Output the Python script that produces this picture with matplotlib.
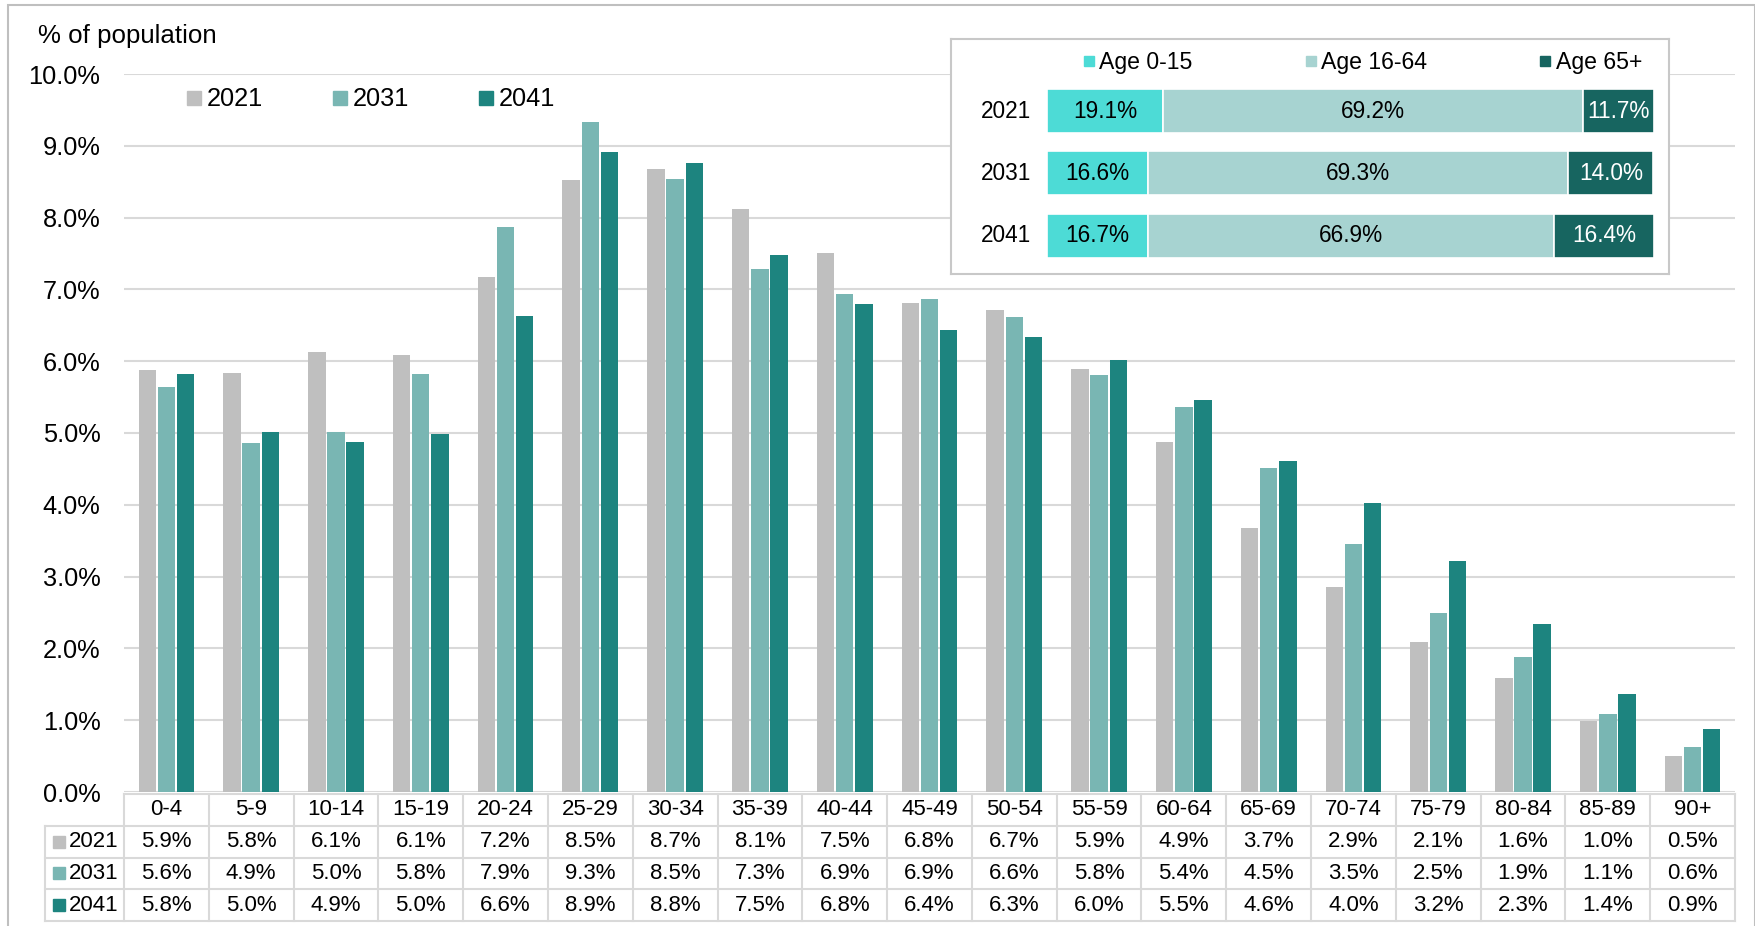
import numpy as np
import matplotlib
matplotlib.use("Agg")
import matplotlib.pyplot as plt
from matplotlib.lines import Line2D
from matplotlib.patches import Rectangle

plt.rcParams['font.family'] = ['Liberation Sans', 'DejaVu Sans']

# Data
age_groups = ['0-4', '5-9', '10-14', '15-19', '20-24', '25-29', '30-34', '35-39',
              '40-44', '45-49', '50-54', '55-59', '60-64', '65-69', '70-74',
              '75-79', '80-84', '85-89', '90+']
years = ['2021', '2031', '2041']
pop_2021 = [5.88, 5.83, 6.13, 6.08, 7.17, 8.52, 8.68, 8.12, 7.51, 6.81,
            6.71, 5.89, 4.87, 3.68, 2.86, 2.09, 1.59, 0.99, 0.50]
pop_2031 = [5.64, 4.86, 5.01, 5.82, 7.87, 9.33, 8.54, 7.28, 6.93, 6.86,
            6.62, 5.81, 5.36, 4.51, 3.46, 2.49, 1.88, 1.08, 0.63]
pop_2041 = [5.82, 5.01, 4.88, 4.98, 6.63, 8.91, 8.76, 7.48, 6.79, 6.43,
            6.34, 6.01, 5.46, 4.61, 4.02, 3.22, 2.34, 1.37, 0.88]

# Inset: broad age bands
band_labels = ['Age 0-15', 'Age 16-64', 'Age 65+']
band_0_15 = [19.1, 16.6, 16.7]
band_16_64 = [69.2, 69.3, 66.9]
band_65_plus = [11.7, 14.0, 16.4]

year_colors = ['#BFBFBF', '#79B6B3', '#1D847F']
band_colors = ['#4DDBD6', '#A7D3D1', '#176560']
grid_col = '#D9D9D9'

W, H = 1756, 926
fig = plt.figure(figsize=(W / 100, H / 100), dpi=100)


def fig_rect(x0, y0, x1, y1):
    # pixel box (top-left origin) -> figure fraction rect
    return [x0 / W, 1 - y1 / H, (x1 - x0) / W, (y1 - y0) / H]


# ---- main bar chart ----
ax = fig.add_axes(fig_rect(124, 74, 1735, 792))
x = np.arange(len(age_groups))
series = [pop_2021, pop_2031, pop_2041]
pitch = 0.226
for i, (vals, col) in enumerate(zip(series, year_colors)):
    ax.bar(x + (i - 1) * pitch, vals, width=0.205, color=col, zorder=3)
ax.set_xlim(-0.5, len(age_groups) - 0.5)
ax.set_ylim(0, 10)
ax.set_yticks(np.arange(0, 11, 1))
ax.set_yticklabels([f'{v:.1f}%' for v in np.arange(0, 11, 1)], fontsize=18.3)
ax.tick_params(axis='y', length=0, pad=17)
ax.set_xticks([])
ax.grid(axis='y', color=grid_col, linewidth=1.5, zorder=0)
for s in ax.spines.values():
    s.set_visible(False)

handles = [Line2D([], [], marker='s', linestyle='none', markersize=9.6,
                  color=c) for c in year_colors]
fig.legend(handles, years, loc='center left', ncol=3, frameon=False,
           bbox_to_anchor=(186 / W, 1 - 99.5 / H), fontsize=18.3,
           handlelength=0.6, handletextpad=0.21, columnspacing=2.72,
           borderpad=0, borderaxespad=0)

fig.text(38 / W, 1 - 36 / H, '% of population', fontsize=18.6,
         va='center', ha='left')

# ---- data table under the chart ----
tax = fig.add_axes(fig_rect(124, 794, 1735, 921))
tax.set_xlim(-0.5, len(age_groups) - 0.5)
tax.set_ylim(4, 0)
tax.axis('off')
lab_left = -0.5 - (124 - 45) / 84.8
lkw = dict(color=grid_col, linewidth=1.5, clip_on=False)
tax.plot([-0.5, len(age_groups) - 0.5], [0, 0], **lkw)
for r in range(1, 5):
    tax.plot([lab_left, len(age_groups) - 0.5], [r, r], **lkw)
for c in range(len(age_groups) + 1):
    tax.plot([c - 0.5, c - 0.5], [0, 4], **lkw)
tax.plot([lab_left, lab_left], [1, 4], **lkw)

for c, g in enumerate(age_groups):
    tax.text(c, 0.5, g, ha='center', va='center', fontsize=16)
for r, (yr, vals, col) in enumerate(zip(years, series, year_colors)):
    tax.plot(-0.5 - (124 - 58.5) / 84.8, r + 1.5, marker='s', markersize=8.4,
             color=col, clip_on=False)
    tax.text(-0.5 - (124 - 69) / 84.8, r + 1.5, yr, ha='left', va='center',
             fontsize=16)
    for c, v in enumerate(vals):
        tax.text(c, r + 1.5, f'{v:.1f}%', ha='center', va='center', fontsize=16)

# ---- inset: stacked shares by broad band ----
frame = fig.add_axes(fig_rect(951, 39, 1669, 274))
frame.set_xticks([])
frame.set_yticks([])
frame.set_facecolor('white')
for s in frame.spines.values():
    s.set_color('#C8C8C8')
    s.set_linewidth(1.5)

iax = fig.add_axes(fig_rect(1047, 79.8, 1654, 267))
iax.patch.set_alpha(0)
yy = np.arange(len(years))
left = np.zeros(len(years))
text_cols = ['black', 'black', 'white']
for vals, col, tc in zip([band_0_15, band_16_64, band_65_plus], band_colors, text_cols):
    vals = np.array(vals)
    bars = iax.barh(yy, vals, left=left, height=0.705, color=col,
                    edgecolor='white', linewidth=1.2)
    for b, v in zip(bars, vals):
        iax.text(b.get_x() + b.get_width() / 2, b.get_y() + b.get_height() / 2,
                 f'{v:.1f}%', ha='center', va='center', fontsize=16.3, color=tc)
    left = left + vals
iax.set_xlim(0, 100)
iax.set_ylim(2.5, -0.5)
iax.axis('off')
for yv, yr in zip(yy, years):
    iax.text(-6.75, yv, yr, ha='center', va='center', fontsize=16.3)

band_handles = [Line2D([], [], marker='s', linestyle='none', markersize=6.8,
                       color=c) for c in band_colors]
fig.legend(band_handles, band_labels, loc='center left', ncol=3, frameon=False,
           bbox_to_anchor=(1083.5 / W, 1 - 62.7 / H), fontsize=16.6,
           handlelength=0.45, handletextpad=0.23, columnspacing=4.9,
           borderpad=0, borderaxespad=0)

# outer border
fig.patches.append(Rectangle((8 / W, -0.01), (1755 - 8) / W, 1 - 5 / H + 0.01,
                             transform=fig.transFigure, fill=False,
                             edgecolor='#BFBFBF', linewidth=1.5, zorder=10))

fig.savefig('out.png', dpi=100)
